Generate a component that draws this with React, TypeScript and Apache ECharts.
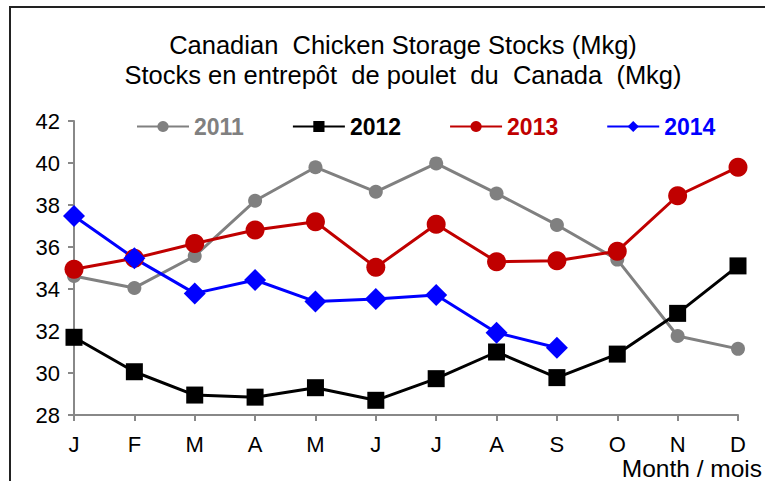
import React, { useEffect, useRef } from "react";
import * as echarts from "echarts";

const months = ["J", "F", "M", "A", "M", "J", "J", "A", "S", "O", "N", "D"];
const s2011 = [34.62, 34.05, 35.57, 38.2, 39.8, 38.63, 39.98, 38.55, 37.05, 35.4, 31.76, 31.15];
const s2012 = [31.7, 30.06, 28.95, 28.85, 29.3, 28.7, 29.73, 31.0, 29.78, 30.9, 32.84, 35.1];
const s2013 = [34.94, 35.46, 36.17, 36.81, 37.2, 35.03, 37.08, 35.3, 35.35, 35.8, 38.44, 39.8];
const s2014 = [37.48, 35.46, 33.79, 34.43, 33.4, 33.52, 33.71, 31.92, 31.2, null, null, null];
const yTicks = { min: 28, max: 42, interval: 2 };
const titleLines = ["Canadian  Chicken Storage Stocks (Mkg)", "Stocks en entrepôt  de poulet  du  Canada  (Mkg)"];
const xName = "Month / mois";

const FONT = "'Liberation Sans', Arial, sans-serif";

export default function App() {
  const ref = useRef<HTMLDivElement>(null);
  useEffect(() => {
    if (!ref.current) return;
    const chart = echarts.init(ref.current, null, { renderer: "svg" });
    const mk = (name: string, data: any[], color: string, symbol: string, size: number) => ({
      name,
      type: "line",
      data,
      symbol,
      symbolSize: size,
      lineStyle: { color, width: 3 },
      itemStyle: { color },
      connectNulls: false,
    });
    chart.setOption({
      animation: false,
      backgroundColor: "#fff",
      textStyle: { fontFamily: FONT },
      graphic: [
        {
          type: "rect",
          shape: { x: 10, y: 7, width: 800, height: 520 },
          style: { fill: "none", stroke: "#222", lineWidth: 2 },
          silent: true,
          z: -1,
        },
        {
          type: "text",
          x: 403,
          y: 30,
          style: {
            text: titleLines.join("\n"),
            textAlign: "center",
            fontSize: 25.5,
            lineHeight: 30,
            fontFamily: FONT,
            fill: "#000",
          },
        },
        {
          type: "text",
          x: 762,
          y: 456,
          style: {
            text: xName,
            textAlign: "right",
            fontSize: 24.5,
            lineHeight: 24,
            fontFamily: FONT,
            fill: "#000",
          },
        },
      ],
      legend: {
        top: 110,
        left: 131,
        itemWidth: 52,
        itemHeight: 14,
        itemGap: 48,
        textStyle: { fontSize: 23, fontWeight: "bold", fontFamily: FONT },
        data: [
          { name: "2011", textStyle: { color: "#808080" } },
          { name: "2012", textStyle: { color: "#000000" } },
          { name: "2013", textStyle: { color: "#C00000" } },
          { name: "2014", textStyle: { color: "#0000FF" } },
        ],
      },
      grid: { left: 74, right: 27, top: 121, bottom: 66, containLabel: false },
      xAxis: {
        type: "category",
        data: months,
        boundaryGap: false,
        axisLine: { lineStyle: { color: "#888", width: 2 } },
        axisTick: { show: true, length: 6, alignWithLabel: true, lineStyle: { color: "#888", width: 2 } },
        axisLabel: { color: "#000", fontSize: 22, margin: 18, fontFamily: FONT },
        splitLine: { show: false },
      },
      yAxis: {
        type: "value",
        min: yTicks.min,
        max: yTicks.max,
        interval: yTicks.interval,
        axisLine: { show: true, lineStyle: { color: "#888", width: 2 } },
        axisTick: { show: true, length: 6, lineStyle: { color: "#888", width: 2 } },
        axisLabel: { color: "#000", fontSize: 22, margin: 14, fontFamily: FONT },
        splitLine: { show: false },
      },
      series: [
        mk("2011", s2011, "#808080", "circle", 14),
        mk("2012", s2012, "#000000", "rect", 17),
        mk("2013", s2013, "#C00000", "circle", 19),
        mk("2014", s2014, "#0000FF", "diamond", 22),
      ],
    });
    return () => chart.dispose();
  }, []);
  return (
    <div
      ref={ref}
      style={{ position: "fixed", left: 0, top: 0, width: 765, height: 481, background: "#fff" }}
    />
  );
}
